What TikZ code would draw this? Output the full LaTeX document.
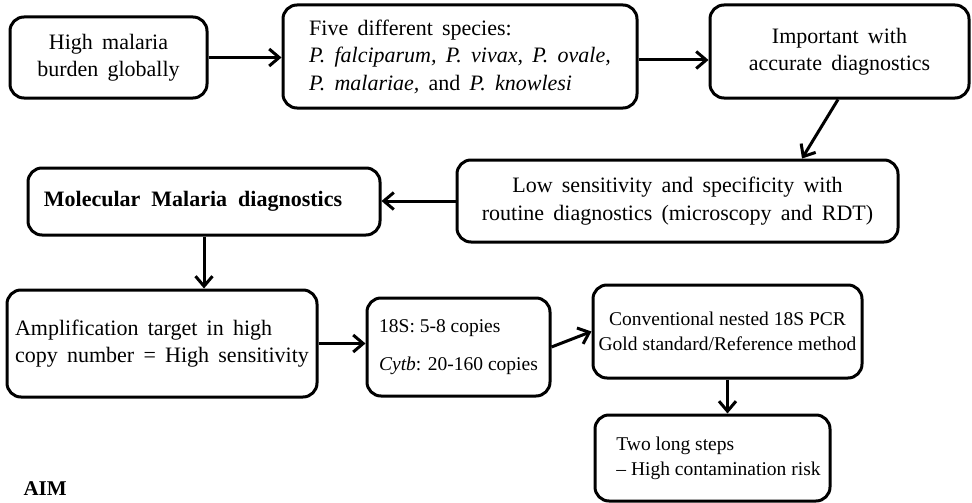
\documentclass[tikz,border=0pt]{standalone}
\usepackage{fontspec}
\setmainfont{Liberation Serif}
\usetikzlibrary{arrows.meta}
% box text sizes, with the loose word spacing of the larger labels
\newcommand{\boxfont}{\fontsize{22}{27.5}\selectfont\spaceskip=0.42em plus 0.1em\relax}
\newcommand{\smallboxfont}{\fontsize{19.5}{25}\selectfont\spaceskip=0pt\relax}
\newcommand{\widerspace}{\spaceskip=0.5em\relax}
\begin{document}
\begin{tikzpicture}[x=1pt,y=1pt,
  box/.style={draw, line width=3pt, rounded corners=14pt, inner sep=0pt,
    font=\boxfont, align=center},
  smalltext/.style={font=\smallboxfont},
  arr/.style={line width=3pt,
    -{Straight Barb[length=10pt,width=17pt,line width=3pt]}}]
\useasboundingbox (0,0) rectangle (972,-503);

% top row
\node[box, minimum width=197pt, minimum height=81pt] (b1) at (108.5,-57.5)
  {High malaria\\burden globally};
\node[box, align=left, minimum width=354pt, minimum height=103pt] (b2) at (460,-56.5)
  {Five different species:\\\textit{P. falciparum, P. vivax, P. ovale,}\\\textit{P. malariae,} and \textit{P. knowlesi}};
\node[box, minimum width=259pt, minimum height=93pt] (b3) at (839.5,-51.5)
  {Important with\\accurate diagnostics};

% middle row
\node[box, minimum width=441pt, minimum height=82pt] (b4) at (677.5,-201)
  {Low sensitivity and specificity with\\routine diagnostics (microscopy and RDT)};
\node[box, minimum width=352pt, minimum height=67pt] (b5) at (204,-201.5)
  {\bfseries\widerspace Molecular Malaria diagnostics\hspace*{22pt}};

% bottom rows
\node[box, align=left, minimum width=310pt, minimum height=107pt] (b6) at (162,-343.5)
  {Amplification target in high\\copy number = High sensitivity};
\node[box, smalltext, align=left, minimum width=183pt, minimum height=98pt] (b7) at (458.5,-347)
  {18S: 5-8 copies\\[13pt]\textit{Cytb}: 20-160 copies};
\node[box, smalltext, minimum width=269pt, minimum height=93pt] (b8) at (727.5,-331.5)
  {Conventional nested 18S PCR\\Gold standard/Reference method};
\node[box, smalltext, align=left, minimum width=235pt, minimum height=86pt] (b9) at (712.5,-458)
  {\hspace*{12pt}Two long steps\\\hspace*{12pt}-- High contamination risk};

\node[font=\fontsize{21}{25}\selectfont\bfseries, anchor=base west] (aim) at (20,-495) {AIM};

% connectors
\draw[arr] (b1.east) -- (b2.west |- b1.east);
\draw[arr] ([yshift=-3.5pt]b2.east) -- ([yshift=-3.5pt]b2.east -| b3.west);
\draw[arr] ([xshift=-1.5pt]b3.south) -- ([xshift=124.5pt]b4.north);
\draw[arr] (b4.west) -- (b4.west -| b5.east);
\draw[arr] (b5.south) -- (b5.south |- b6.north);
\draw[arr] (b6.east) -- (b6.east -| b7.west);
\draw[arr] (b7.east) -- (b8.west);
\draw[arr] (b8.south) -- (b8.south |- b9.north);
\end{tikzpicture}
\end{document}
